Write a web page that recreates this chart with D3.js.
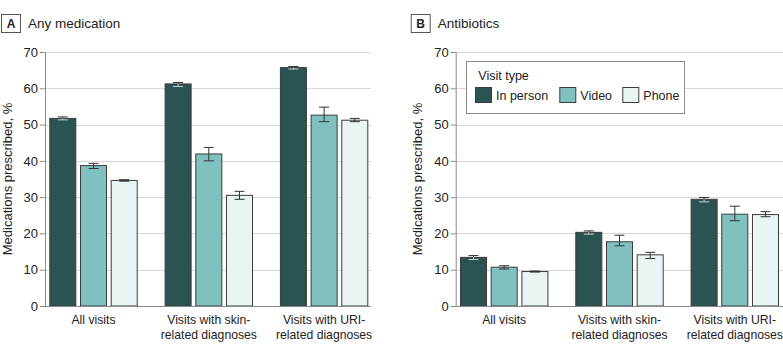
<!DOCTYPE html>
<html>
<head>
<meta charset="utf-8">
<script src="https://cdn.jsdelivr.net/npm/d3@7"></script>
<style>
  html, body { margin: 0; padding: 0; background: #fff; }
  svg { display: block; font-family: "Liberation Sans", Arial, sans-serif; }
</style>
</head>
<body>
<svg id="chart" width="783" height="354"></svg>
<script>
// ---- Data ----
const categories = [["All visits"], ["Visits with skin-", "related diagnoses"], ["Visits with URI-", "related diagnoses"]];
const categoryKeys = ["All visits", "Skin", "URI"];
const seriesNames = ["In person", "Video", "Phone"];
const seriesColors = ["#2b5352", "#80c1bf", "#e9f4f4"];
const yTicks = [0, 10, 20, 30, 40, 50, 60, 70];

// Panel A: Any medication (value, lower CI, upper CI) per category, per series
const anyMedValue = [[51.7, 38.7, 34.6], [61.2, 41.9, 30.5], [65.7, 52.6, 51.2]];
const anyMedLow   = [[51.3, 37.9, 34.4], [60.5, 40.0, 29.4], [65.3, 50.8, 50.8]];
const anyMedHigh  = [[52.1, 39.3, 34.8], [61.6, 43.7, 31.6], [66.0, 54.8, 51.7]];

// Panel B: Antibiotics
const abxValue = [[13.4, 10.7, 9.5], [20.3, 17.7, 14.1], [29.4, 25.3, 25.2]];
const abxLow   = [[12.8, 10.2, 9.35], [19.8, 16.6, 13.1], [28.7, 23.5, 24.6]];
const abxHigh  = [[13.9, 11.1, 9.65], [20.7, 19.5, 14.8], [29.9, 27.5, 26.0]];

const panels = [
  { letter: "A", title: "Any medication", value: anyMedValue, low: anyMedLow, high: anyMedHigh, x0: 45, right: 371, boxX: 1, labelX: 11.5, legend: false },
  { letter: "B", title: "Antibiotics", value: abxValue, low: abxLow, high: abxHigh, x0: 455.7, right: 783, boxX: 410.7, labelX: 422, legend: true }
];

const svg = d3.select("#chart");
const y = d3.scaleLinear().domain([0, 70]).range([306, 52]);

panels.forEach(p => {
  const g = svg.append("g");

  // Panel header
  g.append("rect").attr("x", p.boxX + 0.5).attr("y", 14.5).attr("width", 19).attr("height", 18)
    .attr("fill", "#fff").attr("stroke", "#555").attr("stroke-width", 1);
  g.append("text").attr("x", p.boxX + 10).attr("y", 28).attr("text-anchor", "middle")
    .attr("font-size", 12).attr("font-weight", "bold").attr("fill", "#222").text(p.letter);
  g.append("text").attr("x", p.boxX + 27).attr("y", 28)
    .attr("font-size", 13.5).attr("fill", "#222").text(p.title);

  // Gridlines
  g.append("g").selectAll("line").data(yTicks.filter(t => t > 0)).join("line")
    .attr("x1", p.x0).attr("x2", p.right)
    .attr("y1", d => Math.round(y(d)) + 0.5).attr("y2", d => Math.round(y(d)) + 0.5)
    .attr("stroke", "#d6d6d6").attr("stroke-width", 1);

  // Y axis
  const yAxis = d3.axisLeft(y).tickValues(yTicks).tickSize(5).tickPadding(2);
  const ya = g.append("g").attr("transform", `translate(${p.x0},0)`).call(yAxis);
  ya.select(".domain").attr("stroke", "#8a8a8a");
  ya.selectAll(".tick line").attr("stroke", "#8a8a8a");
  ya.selectAll(".tick text").attr("font-size", 13).attr("fill", "#222")
    .attr("font-family", "Liberation Sans, Arial, sans-serif");

  // Y label
  g.append("text").attr("transform", `translate(${p.labelX},179) rotate(-90)`)
    .attr("text-anchor", "middle").attr("font-size", 13).attr("fill", "#222")
    .text("Medications prescribed, %");

  // Scales
  const xg = d3.scaleBand().domain(categoryKeys).range([p.x0, p.x0 + 327.6])
    .paddingInner(0.2333).paddingOuter(0.0373).align(0.5);
  const xs = d3.scaleBand().domain(seriesNames).range([0, xg.bandwidth()]).paddingInner(0.12);

  // Bars
  categoryKeys.forEach((c, ci) => {
    const cg = g.append("g").attr("transform", `translate(${xg(c)},0)`);
    seriesNames.forEach((s, si) => {
      const v = p.value[ci][si];
      cg.append("rect")
        .attr("x", xs(s) + 0.5).attr("y", y(v))
        .attr("width", xs.bandwidth() - 1).attr("height", y(0) - y(v))
        .attr("fill", seriesColors[si]).attr("stroke", "#3c3c3c").attr("stroke-width", 1);
    });
    seriesNames.forEach((s, si) => {
      const v = p.value[ci][si], lo = p.low[ci][si], hi = p.high[ci][si];
      const cx = xs(s) + xs.bandwidth() / 2;
      const lowerColor = si === 0 ? "#c9d3d3" : "#333";
      cg.append("line").attr("x1", cx).attr("x2", cx).attr("y1", y(hi)).attr("y2", y(v))
        .attr("stroke", "#333").attr("stroke-width", 1);
      cg.append("line").attr("x1", cx - 5).attr("x2", cx + 5).attr("y1", y(hi)).attr("y2", y(hi))
        .attr("stroke", "#333").attr("stroke-width", 1);
      cg.append("line").attr("x1", cx).attr("x2", cx).attr("y1", y(v)).attr("y2", y(lo))
        .attr("stroke", lowerColor).attr("stroke-width", 1);
      cg.append("line").attr("x1", cx - 5).attr("x2", cx + 5).attr("y1", y(lo)).attr("y2", y(lo))
        .attr("stroke", lowerColor).attr("stroke-width", 1);
    });
  });

  // Baseline
  g.append("line").attr("x1", p.x0).attr("x2", p.right).attr("y1", y(0) + 0.5).attr("y2", y(0) + 0.5)
    .attr("stroke", "#8a8a8a").attr("stroke-width", 1.2);

  // Category labels
  categoryKeys.forEach((c, ci) => {
    const t = g.append("text").attr("text-anchor", "middle").attr("font-size", 12.2).attr("fill", "#222");
    categories[ci].forEach((line, li) => {
      t.append("tspan").attr("x", xg(c) + xg.bandwidth() / 2).attr("y", 324 + li * 15).text(line);
    });
  });

  // Legend
  if (p.legend) {
    const lg = g.append("g");
    lg.append("rect").attr("x", 466.5).attr("y", 61.5).attr("width", 218).attr("height", 52)
      .attr("fill", "#fff").attr("stroke", "#8a8a8a").attr("stroke-width", 1);
    lg.append("text").attr("x", 478.3).attr("y", 80).attr("font-size", 12.5).attr("fill", "#222").text("Visit type");
    const swX = [475, 559.3, 622.3];
    seriesNames.forEach((s, si) => {
      lg.append("rect").attr("x", swX[si] + 0.5).attr("y", 87.5).attr("width", 16).attr("height", 15)
        .attr("fill", seriesColors[si]).attr("stroke", "#3c3c3c").attr("stroke-width", 1);
      lg.append("text").attr("x", swX[si] + 21).attr("y", 99.5).attr("font-size", 12.5).attr("fill", "#222").text(s);
    });
  }
});
</script>
</body>
</html>
